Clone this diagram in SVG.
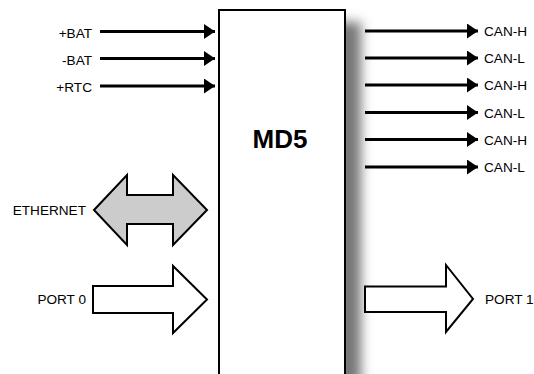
<svg xmlns="http://www.w3.org/2000/svg" width="534" height="374" viewBox="0 0 534 374">
<style>
.lbl{font-family:"Liberation Sans",Arial,sans-serif;font-size:13.6px;fill:#000}
.wire{stroke:#000;stroke-width:3;fill:none}
.big{stroke:#000;stroke-width:2;stroke-linejoin:miter}
</style>
<defs>
<marker id="ah" markerUnits="userSpaceOnUse" markerWidth="12" markerHeight="15" refX="11" refY="7.5" orient="auto">
<path d="M0,0 L11,7.5 L0,15 Z" fill="#000"/>
</marker>
<filter id="blur" x="-1" y="-1" width="3" height="3"><feGaussianBlur stdDeviation="6"/></filter>
</defs>
<rect width="534" height="374" fill="#fff"/>
<g id="md5">
<rect x="328" y="22" width="33" height="420" fill="#777" filter="url(#blur)"/>
<rect x="219" y="10" width="126" height="380" fill="#fff" stroke="#000" stroke-width="2"/>
<text x="280" y="148" text-anchor="middle" style="font-family:'Liberation Sans',Arial,sans-serif;font-size:26px;font-weight:bold">MD5</text>
</g>
<g id="connectors">
<line class="wire" x1="100" y1="31.5" x2="215" y2="31.5" marker-end="url(#ah)"/>
<line class="wire" x1="100" y1="58.5" x2="215" y2="58.5" marker-end="url(#ah)"/>
<line class="wire" x1="100" y1="86" x2="215" y2="86" marker-end="url(#ah)"/>
<line class="wire" x1="365" y1="31" x2="478" y2="31" marker-end="url(#ah)"/>
<line class="wire" x1="365" y1="58" x2="478" y2="58" marker-end="url(#ah)"/>
<line class="wire" x1="365" y1="85" x2="478" y2="85" marker-end="url(#ah)"/>
<line class="wire" x1="365" y1="112.5" x2="478" y2="112.5" marker-end="url(#ah)"/>
<line class="wire" x1="365" y1="139.5" x2="478" y2="139.5" marker-end="url(#ah)"/>
<line class="wire" x1="365" y1="167" x2="478" y2="167" marker-end="url(#ah)"/>
</g>
<g id="pbat"><text class="lbl" x="92" y="37.5" text-anchor="end">+BAT</text></g>
<g id="mbat"><text class="lbl" x="92" y="64.5" text-anchor="end">-BAT</text></g>
<g id="rtc"><text class="lbl" x="92" y="92" text-anchor="end">+RTC</text></g>
<g id="can"><text class="lbl" x="484" y="36">CAN-H</text>
<text class="lbl" x="484" y="63">CAN-L</text>
<text class="lbl" x="484" y="90">CAN-H</text>
<text class="lbl" x="484" y="117.5">CAN-L</text>
<text class="lbl" x="484" y="144.5">CAN-H</text>
<text class="lbl" x="484" y="172">CAN-L</text></g>
<g id="ethernet">
<polygon class="big" fill="#cccccc" points="94,210 127,175 127,195 173,195 173,175 207,210 173,245 173,224 127,224 127,245"/>
<text class="lbl" x="86" y="215" text-anchor="end">ETHERNET</text>
</g>
<g id="port0">
<polygon class="big" fill="#fff" points="93,286 173,286 173,266 207,299.5 173,333 173,313 93,313"/>
<text class="lbl" x="86" y="304" text-anchor="end">PORT 0</text>
</g>
<g id="port1">
<polygon class="big" fill="#fff" points="365,286.5 446,286.5 446,265 473,299 446,332 446,312 365,312"/>
<text class="lbl" x="485" y="304">PORT 1</text>
</g>
</svg>
